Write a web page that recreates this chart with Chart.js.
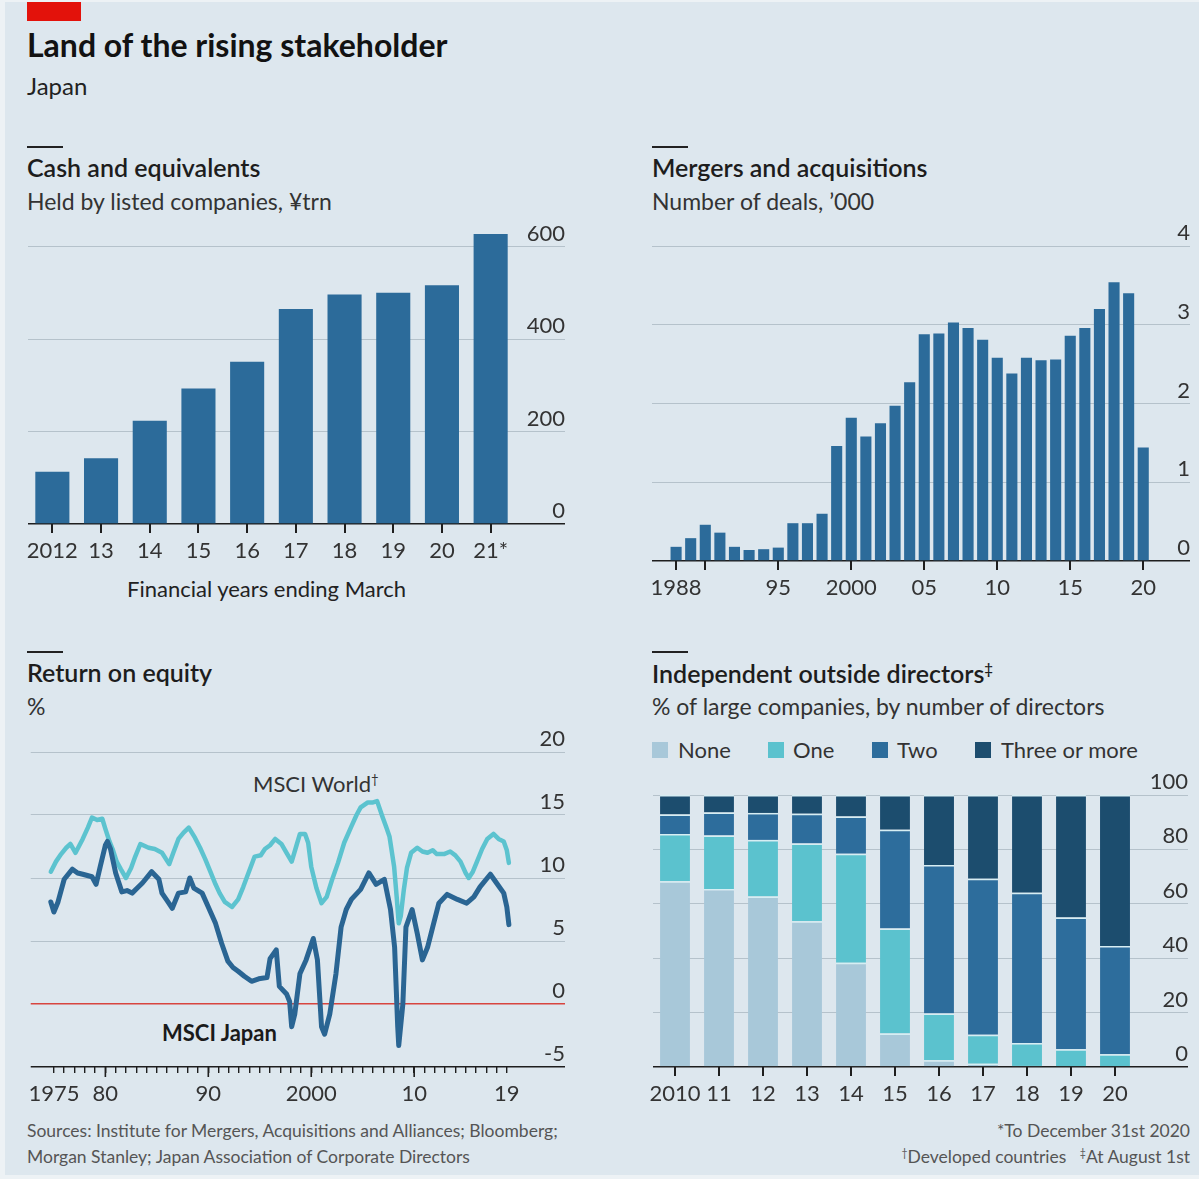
<!DOCTYPE html>
<html lang="en">
<head>
<meta charset="UTF-8" />
<title>Land of the rising stakeholder</title>
<script src="https://cdn.jsdelivr.net/npm/chart.js"></script>
<style>
    body {
        margin: 0;
        width: 1199px;
        height: 1179px;
        background: #edf2f5;
        font-family: Lato, sans-serif;
        color: #1a1a1a;
        overflow: hidden;
    }
    #panel {
        position: absolute;
        left: 5px; top: 2px;
        width: 1194px; height: 1173px;
        background: #dde7ee;
    }
    .t {
        position: absolute;
        white-space: nowrap;
        line-height: 1;
    }
    .rule {
        position: absolute;
        width: 36px; height: 2px;
        background: #222;
    }
    .head { font-size: 25px; font-weight: 600; color: #1d1d1d; }
    .sub { font-size: 23px; color: #333; }
    .foot { font-size: 17.5px; color: #555; }
    .key { position: absolute; width: 16px; height: 16px; top: 742px; }
    sup { font-size: 0.6em; line-height: 0; vertical-align: 0.6em; }
    canvas { position: absolute; }
</style>
</head>
<body>
<div id="panel"></div>

<div style="position:absolute;left:27px;top:2px;width:54px;height:19px;background:#e3120b"></div>
<div class="t" style="left:27px;top:28.6px;font-size:32px;font-weight:700;color:#121212">Land of the rising stakeholder</div>
<div class="t" style="left:27px;top:73.7px;font-size:24px;color:#222">Japan</div>

<div class="rule" style="left:27px;top:146px"></div>
<div class="t head" style="left:27px;top:154.8px">Cash and equivalents</div>
<div class="t sub" style="left:27px;top:189.6px">Held by listed companies, ¥trn</div>
<div class="t sub" style="left:127px;top:577.5px;font-size:22px;color:#222">Financial years ending March</div>

<div class="rule" style="left:652px;top:146px"></div>
<div class="t head" style="left:652px;top:154.8px">Mergers and acquisitions</div>
<div class="t sub" style="left:652px;top:189.6px">Number of deals, ’000</div>

<div class="rule" style="left:27px;top:651px"></div>
<div class="t head" style="left:27px;top:659.8px">Return on equity</div>
<div class="t sub" style="left:27px;top:694.6px">%</div>
<div class="t" style="left:253px;top:772.5px;font-size:22px;color:#333">MSCI World<sup>†</sup></div>
<div class="t" style="left:162px;top:1021.5px;font-size:22px;font-weight:700;color:#1a1a1a">MSCI Japan</div>

<div class="rule" style="left:652px;top:651px"></div>
<div class="t head" style="left:652px;top:660.5px">Independent outside directors<sup>‡</sup></div>
<div class="t sub" style="left:652px;top:694.6px">% of large companies, by number of directors</div>

<div class="key" style="left:652px;background:#a8c8d9"></div>
<div class="t sub" style="left:678px;top:738.5px;font-size:22px">None</div>
<div class="key" style="left:768px;background:#5bc2ce"></div>
<div class="t sub" style="left:793px;top:738.5px;font-size:22px">One</div>
<div class="key" style="left:872px;background:#2d6d9c"></div>
<div class="t sub" style="left:897px;top:738.5px;font-size:22px">Two</div>
<div class="key" style="left:975px;background:#1c4d6e"></div>
<div class="t sub" style="left:1001px;top:738.5px;font-size:22px">Three or more</div>

<div class="t foot" style="left:27px;top:1122px">Sources: Institute for Mergers, Acquisitions and Alliances; Bloomberg;</div>
<div class="t foot" style="left:27px;top:1148px">Morgan Stanley; Japan Association of Corporate Directors</div>
<div class="t foot" style="right:9px;top:1122px">*To December 31st 2020</div>
<div class="t foot" style="right:9px;top:1148px"><sup>†</sup>Developed countries &nbsp;&nbsp;<sup>‡</sup>At August 1st</div>

<canvas id="cash" width="560" height="359" style="left:20px;top:210px"></canvas>
<canvas id="mna" width="559" height="391" style="left:640px;top:215px"></canvas>
<canvas id="roe" width="560" height="392" style="left:20px;top:720px"></canvas>
<canvas id="board" width="559" height="352" style="left:640px;top:760px"></canvas>

<script>
    // Cash and equivalents, ¥trn, financial years ending March
    const cashYears = ['2012', '13', '14', '15', '16', '17', '18', '19', '20', '21*'];
    const cashHeld = [113, 142, 223, 293, 351, 465, 496, 500, 516, 627];
    const cashTicks = [0, 200, 400, 600];

    // Mergers and acquisitions, number of deals ('000)
    const mnaYears = [1988, 1989, 1990, 1991, 1992, 1993, 1994, 1995, 1996, 1997, 1998,
        1999, 2000, 2001, 2002, 2003, 2004, 2005, 2006, 2007, 2008, 2009, 2010, 2011,
        2012, 2013, 2014, 2015, 2016, 2017, 2018, 2019, 2020];
    const mnaDeals = [0.18, 0.29, 0.46, 0.36, 0.18, 0.14, 0.15, 0.17, 0.48, 0.48, 0.60,
        1.46, 1.82, 1.58, 1.75, 1.97, 2.27, 2.88, 2.89, 3.03, 2.96, 2.81, 2.58, 2.38,
        2.58, 2.55, 2.56, 2.86, 2.96, 3.20, 3.54, 3.40, 1.44];
    const mnaTickYears = [1988, 1990, 1995, 2000, 2005, 2010, 2015, 2020];
    const mnaTickLabels = ['1988', '', '95', '2000', '05', '10', '15', '20'];
    const mnaTicks = [0, 1, 2, 3, 4];

    // Return on equity, %
    const worldYears = [1974.7, 1975.2, 1975.7, 1976.2, 1976.6, 1977.1, 1977.8, 1978.3, 1978.7,
        1979.2, 1979.7, 1980.0, 1980.4, 1980.7, 1981.1, 1981.5, 1982.0, 1982.5, 1982.9, 1983.4,
        1984.2, 1984.8, 1985.5, 1986.2, 1986.6, 1987.1, 1987.6, 1988.1, 1988.7, 1989.2, 1989.7,
        1990.2, 1990.7, 1991.1, 1991.6, 1992.3, 1992.9, 1993.4, 1993.9, 1994.5, 1995.1, 1995.5,
        1996.0, 1996.5, 1997.1, 1997.6, 1998.1, 1998.5, 1998.9, 1999.4, 1999.7, 2000.0, 2000.5,
        2001.0, 2001.5, 2002.0, 2002.6, 2003.2, 2003.9, 2004.4, 2004.8, 2005.5, 2006.0, 2006.4,
        2006.9, 2007.3, 2007.6, 2008.05, 2008.3, 2008.5, 2008.7, 2009.0, 2009.3, 2009.7, 2010.3,
        2010.8, 2011.3, 2011.8, 2012.2, 2012.9, 2013.5, 2014.0, 2014.5, 2015.0, 2015.3, 2015.7,
        2016.1, 2016.6, 2017.1, 2017.7, 2018.2, 2018.7, 2019.0, 2019.2];
    const worldRoe = [10.5, 11.3, 11.9, 12.4, 12.7, 12.0, 13.1, 14.0, 14.8,
        14.6, 14.7, 13.9, 12.9, 12.3, 11.3, 10.7, 10.0, 10.8, 11.7, 12.7,
        12.4, 12.3, 12.0, 11.1, 12.0, 13.1, 13.6, 14.0, 13.2, 12.4, 11.5,
        10.5, 9.5, 8.8, 8.1, 7.7, 8.3, 9.3, 10.4, 11.7, 11.8, 12.3,
        12.6, 13.1, 12.7, 12.0, 11.3, 12.4, 13.5, 13.5, 12.8, 10.9, 9.2,
        8.0, 8.5, 9.8, 11.2, 12.8, 14.1, 15.0, 15.6, 16.0, 16.0, 16.1,
        14.9, 14.0, 13.3, 10.9, 8.5, 6.4, 7.0, 9.1, 10.8, 12.0, 12.4,
        12.1, 12.0, 12.2, 11.9, 11.9, 12.1, 11.8, 11.3, 10.4, 10.0, 10.5,
        11.3, 12.3, 13.1, 13.5, 13.1, 12.9, 12.2, 11.2];

    const japanYears = [1974.7, 1975.0, 1975.4, 1976.0, 1976.8, 1977.3, 1977.8, 1978.7, 1979.1,
        1979.5, 1980.0, 1980.2, 1980.5, 1981.0, 1981.6, 1982.1, 1982.6, 1983.1, 1983.6, 1984.5,
        1985.2, 1985.5, 1986.0, 1986.5, 1987.1, 1987.8, 1988.2, 1988.6, 1989.4, 1990.0, 1990.7,
        1991.3, 1991.9, 1992.4, 1992.9, 1993.5, 1994.2, 1994.9, 1995.7, 1996.0, 1996.6, 1996.9,
        1997.6, 1997.9, 1998.1, 1998.4, 1998.9, 1999.5, 2000.2, 2000.6, 2001.0, 2001.3, 2001.8,
        2002.4, 2002.9, 2003.4, 2003.9, 2004.8, 2005.6, 2006.3, 2007.1, 2007.7, 2008.1, 2008.4,
        2008.5, 2008.9, 2009.2, 2009.8, 2010.3, 2010.8, 2011.3, 2011.8, 2012.4, 2013.2, 2014.2,
        2015.1, 2015.8, 2016.4, 2017.4, 2018.0, 2018.7, 2019.0, 2019.2];
    const japanRoe = [8.1, 7.3, 8.1, 9.9, 10.7, 10.4, 10.3, 10.1, 9.5,
        10.9, 12.6, 12.9, 12.3, 10.4, 8.9, 9.0, 8.8, 9.2, 9.6, 10.5,
        9.9, 8.8, 8.2, 7.6, 8.8, 8.9, 10.0, 9.2, 8.8, 7.7, 6.4,
        4.8, 3.4, 2.9, 2.6, 2.2, 1.8, 2.0, 2.1, 3.6, 4.3, 1.4,
        0.8, 0.2, -1.8, -0.8, 2.4, 3.5, 5.2, 3.5, -1.8, -2.4, -0.8,
        2.4, 6.1, 7.5, 8.3, 9.1, 10.4, 9.5, 9.9, 7.5, 4.5, -1.8,
        -3.3, 0.0, 6.1, 7.5, 5.6, 3.5, 4.5, 6.1, 8.0, 8.7, 8.3,
        8.0, 8.5, 9.3, 10.3, 9.6, 8.8, 7.7, 6.3];
    const roeTicks = [-5, 0, 5, 10, 15, 20];
    const roeLabelYears = [1975, 1980, 1990, 2000, 2010, 2019];
    const roeLabels = ['1975', '80', '90', '2000', '10', '19'];
    const roeDecades = [1980, 1990, 2000, 2010];

    // Independent outside directors, % of large companies
    const boardYears = ['2010', '11', '12', '13', '14', '15', '16', '17', '18', '19', '20'];
    const dirNone = [68.3, 65.4, 62.7, 53.6, 38.3, 12.3, 2.5, 1.2, 0.4, 0, 0];
    const dirOne = [17.4, 19.7, 20.8, 28.6, 40.1, 38.6, 17.2, 10.7, 8.4, 6.5, 4.7];
    const dirTwo = [7.1, 8.5, 9.9, 10.9, 13.7, 36.3, 54.6, 57.3, 55.3, 48.5, 39.8];
    const dirThree = [7.2, 6.4, 6.6, 6.9, 7.9, 12.8, 25.7, 30.8, 35.9, 45.0, 55.5];
    const boardTicks = [0, 20, 40, 60, 80, 100];

    const GRID = '#b5c2cb';
    const DARK = '#1e1e1e';
    const LABEL = '#333';
    const BLUE = '#2c6b9a';

    Chart.defaults.font.family = 'Lato, sans-serif';
    Chart.defaults.font.size = 22;
    Chart.defaults.color = LABEL;
    Chart.defaults.animation = false;
    Chart.defaults.responsive = false;
    Chart.defaults.plugins.legend.display = false;
    Chart.defaults.plugins.tooltip.enabled = false;

    // right-hand value axis: labels sit above their gridline, lines run under the labels
    function valueAxis(min, max, ticks, width, lineColour) {
        return {
            position: 'right',
            min: min,
            max: max,
            afterBuildTicks: s => { s.ticks = ticks.map(v => ({ value: v })); },
            afterFit: s => { s.width = width; },
            grid: {
                color: c => lineColour(c.tick.value) || GRID,
                lineWidth: c => lineColour(c.tick.value) ? 1.6 : 1,
                tickLength: width
            },
            border: { display: false },
            ticks: { crossAlign: 'far', padding: 0, labelOffset: -13, color: LABEL }
        };
    }

    // bottom axis: short dark tick marks hanging below the baseline
    function baseAxis(extra, tickLen) {
        return Object.assign({
            grid: {
                drawOnChartArea: false, offset: false,
                tickLength: tickLen || 9, color: DARK, lineWidth: 2
            },
            border: { display: false },
            ticks: { color: LABEL, padding: 5, maxRotation: 0, autoSkip: false },
            afterFit: s => { s.height = 45; }
        }, extra);
    }

    new Chart(document.getElementById('cash'), {
        type: 'bar',
        data: {
            labels: cashYears,
            datasets: [{ data: cashHeld, backgroundColor: BLUE, barPercentage: 0.7, categoryPercentage: 1 }]
        },
        options: {
            layout: { padding: { left: 8, top: 18, right: 15, bottom: 0 } },
            scales: {
                x: baseAxis({}),
                y: valueAxis(0, 640, cashTicks, 50, v => v === 0 ? DARK : null)
            }
        }
    });

    new Chart(document.getElementById('mna'), {
        type: 'bar',
        data: {
            datasets: [{
                data: mnaYears.map((yr, i) => ({ x: yr, y: mnaDeals[i] })),
                backgroundColor: BLUE,
                barPercentage: 0.76,
                categoryPercentage: 1
            }]
        },
        options: {
            layout: { padding: { left: 12, top: 31, right: 9, bottom: 0 } },
            scales: {
                x: baseAxis({
                    type: 'linear',
                    min: 1986.35,
                    max: 2020.6,
                    offset: false,
                    afterBuildTicks: s => { s.ticks = mnaTickYears.map(v => ({ value: v })); },
                    ticks: {
                        color: LABEL, padding: 5, maxRotation: 0, autoSkip: false,
                        callback: v => mnaTickLabels[mnaTickYears.indexOf(v)]
                    }
                }),
                y: valueAxis(0, 4, mnaTicks, 38, v => v === 0 ? DARK : null)
            }
        }
    });

    // decade marks on the ROE time axis are longer than the yearly ones
    const decadeTicks = {
        id: 'decadeTicks',
        afterDraw(chart) {
            const x = chart.scales.x;
            const ctx = chart.ctx;
            ctx.save();
            ctx.strokeStyle = DARK;
            ctx.lineWidth = 1.6;
            roeDecades.forEach(yr => {
                const px = x.getPixelForValue(yr);
                ctx.beginPath();
                ctx.moveTo(px, x.top);
                ctx.lineTo(px, x.top + 10);
                ctx.stroke();
            });
            ctx.restore();
        }
    };

    const roeYearTicks = [];
    for (let yr = 1975; yr <= 2019; yr++) roeYearTicks.push(yr);

    new Chart(document.getElementById('roe'), {
        type: 'line',
        data: {
            datasets: [
                {
                    label: 'MSCI Japan',
                    data: japanYears.map((yr, i) => ({ x: yr, y: japanRoe[i] })),
                    borderColor: '#2a6593',
                    borderWidth: 5
                },
                {
                    label: 'MSCI World',
                    data: worldYears.map((yr, i) => ({ x: yr, y: worldRoe[i] })),
                    borderColor: '#5cc3cf',
                    borderWidth: 4.5
                }
            ]
        },
        options: {
            elements: {
                point: { radius: 0 },
                line: { tension: 0, borderJoinStyle: 'round', borderCapStyle: 'round' }
            },
            layout: { padding: { left: 8, top: 32, right: 15, bottom: 0 } },
            scales: {
                x: baseAxis({
                    type: 'linear',
                    min: 1972.75,
                    max: 2020.28,
                    afterBuildTicks: s => { s.ticks = roeYearTicks.map(v => ({ value: v })); },
                    grid: { drawOnChartArea: false, tickLength: 6, color: DARK, lineWidth: 1.4 },
                    ticks: {
                        color: LABEL, padding: 8, maxRotation: 0, autoSkip: false,
                        callback: v => {
                            const i = roeLabelYears.indexOf(v);
                            return i < 0 ? '' : roeLabels[i];
                        }
                    }
                }),
                y: valueAxis(-5, 20, roeTicks, 45, v => v === -5 ? DARK : (v === 0 ? '#d8453f' : null))
            }
        },
        plugins: [decadeTicks]
    });

    const seam = { top: 1.5, left: 0, right: 0, bottom: 0 };
    new Chart(document.getElementById('board'), {
        type: 'bar',
        data: {
            labels: boardYears,
            datasets: [
                { label: 'None', data: dirNone, backgroundColor: '#a8c8d9' },
                { label: 'One', data: dirOne, backgroundColor: '#5bc2ce' },
                { label: 'Two', data: dirTwo, backgroundColor: '#2d6d9c' },
                { label: 'Three or more', data: dirThree, backgroundColor: '#1c4d6e' }
            ].map(d => Object.assign(d, {
                barPercentage: 0.68, categoryPercentage: 1,
                borderWidth: seam, borderColor: '#d6eef3'
            }))
        },
        options: {
            layout: { padding: { left: 13, top: 35, right: 11, bottom: 0 } },
            scales: {
                x: baseAxis({ stacked: true }),
                y: Object.assign(valueAxis(0, 100, boardTicks, 51, v => v === 0 ? DARK : null),
                    { stacked: true })
            }
        }
    });
</script>
</body>
</html>
